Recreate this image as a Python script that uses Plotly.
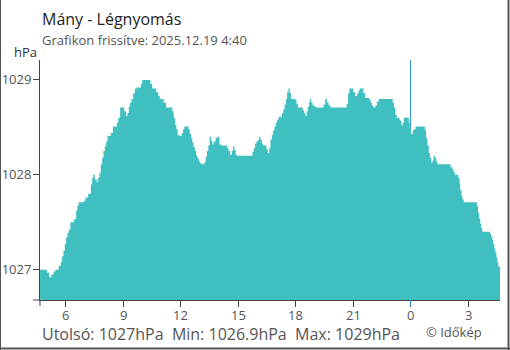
import plotly.graph_objects as go

# Hours since midnight of the first day (4.67 = 04:40, 28.67 = 04:40 next day)
hours = [4.67, 5.03, 5.14, 5.26, 5.38, 5.47, 5.64, 5.75, 5.82, 5.89, 5.96, 6.03, 6.10, 6.17, 6.25,
         6.44, 6.55, 6.62, 6.69, 6.97, 7.04, 7.18, 7.32, 7.39, 7.46, 7.53, 7.63, 7.70, 7.77, 7.84,
         7.91, 7.98, 8.05, 8.12, 8.19, 8.36, 8.47, 8.68, 8.75, 8.85, 9.06, 9.16, 9.23, 9.30, 9.36,
         9.44, 9.53, 9.62, 9.70, 9.93, 10.00, 10.42, 10.52, 10.73, 10.84, 10.92, 11.12, 11.24, 11.57,
         11.64, 11.71, 11.78, 11.85, 11.92, 12.06, 12.13, 12.20, 12.41, 12.48, 12.55, 12.61, 12.68,
         12.75, 12.82, 12.89, 12.96, 13.03, 13.10, 13.24, 13.31, 13.38, 13.45, 13.52, 13.59, 13.66,
         13.73, 13.83, 13.94, 14.03, 14.11, 14.43, 14.50, 14.58, 14.67, 14.74, 14.81, 14.88, 14.95,
         15.75, 15.82, 15.89, 15.96, 16.03, 16.10, 16.17, 16.24, 16.31, 16.48, 16.55, 16.62, 16.69,
         16.76, 16.83, 16.90, 16.97, 17.04, 17.11, 17.29, 17.36, 17.43, 17.50, 17.56, 17.63, 17.70,
         17.77, 17.98, 18.05, 18.12, 18.37, 18.44, 18.51, 18.58, 18.65, 18.71, 18.75, 18.82, 18.89,
         18.99, 19.06, 19.46, 19.55, 19.64, 19.73, 19.83, 20.67, 20.74, 20.81, 21.02, 21.12, 21.22,
         21.29, 21.36, 21.54, 21.64, 21.85, 21.92, 21.99, 22.06, 22.17, 22.24, 22.34, 23.07, 23.14,
         23.21, 23.28, 23.42, 23.46, 23.53, 23.59, 23.66, 23.91, 23.96, 24.03, 24.12, 24.19, 24.26,
         24.75, 24.81, 24.88, 24.95, 25.01, 25.08, 25.15, 25.20, 25.27, 25.34, 25.41, 26.09, 26.17,
         26.24, 26.31, 26.49, 26.56, 26.59, 26.66, 26.71, 26.78, 27.46, 27.52, 27.57, 27.64, 27.69,
         27.74, 28.14, 28.21, 28.27, 28.32, 28.37, 28.42, 28.48, 28.53, 28.58, 28.67]

pressure = [1027.00, 1026.97, 1026.92, 1026.95, 1026.98, 1027.00, 1027.04, 1027.08, 1027.14, 1027.20,
            1027.27, 1027.34, 1027.39, 1027.42, 1027.50, 1027.53, 1027.62, 1027.68, 1027.71, 1027.73,
            1027.76, 1027.80, 1027.90, 1027.97, 1028.00, 1027.95, 1027.92, 1027.97, 1028.02, 1028.11,
            1028.18, 1028.25, 1028.30, 1028.35, 1028.41, 1028.44, 1028.51, 1028.55, 1028.60, 1028.71,
            1028.67, 1028.62, 1028.65, 1028.72, 1028.76, 1028.80, 1028.86, 1028.91, 1028.92, 1028.96,
            1029.00, 1028.96, 1028.91, 1028.87, 1028.83, 1028.80, 1028.76, 1028.71, 1028.67, 1028.60,
            1028.53, 1028.48, 1028.42, 1028.41, 1028.44, 1028.48, 1028.51, 1028.48, 1028.43, 1028.39,
            1028.34, 1028.29, 1028.25, 1028.20, 1028.17, 1028.14, 1028.12, 1028.11, 1028.13, 1028.19,
            1028.25, 1028.31, 1028.40, 1028.36, 1028.32, 1028.35, 1028.39, 1028.40, 1028.32, 1028.31,
            1028.28, 1028.25, 1028.21, 1028.25, 1028.30, 1028.26, 1028.21, 1028.20, 1028.24, 1028.28,
            1028.33, 1028.35, 1028.37, 1028.40, 1028.37, 1028.33, 1028.31, 1028.27, 1028.23, 1028.28,
            1028.37, 1028.42, 1028.47, 1028.51, 1028.55, 1028.58, 1028.61, 1028.65, 1028.69, 1028.74,
            1028.80, 1028.87, 1028.91, 1028.86, 1028.80, 1028.79, 1028.75, 1028.71, 1028.68, 1028.65,
            1028.62, 1028.67, 1028.72, 1028.77, 1028.80, 1028.76, 1028.73, 1028.72, 1028.71, 1028.74,
            1028.80, 1028.76, 1028.73, 1028.71, 1028.75, 1028.86, 1028.91, 1028.87, 1028.83, 1028.86,
            1028.89, 1028.91, 1028.86, 1028.81, 1028.79, 1028.76, 1028.73, 1028.71, 1028.73, 1028.77,
            1028.80, 1028.76, 1028.71, 1028.63, 1028.60, 1028.58, 1028.57, 1028.52, 1028.55, 1028.60,
            1028.55, 1028.49, 1028.43, 1028.47, 1028.48, 1028.51, 1028.47, 1028.39, 1028.31, 1028.23,
            1028.18, 1028.13, 1028.15, 1028.20, 1028.18, 1028.14, 1028.11, 1028.08, 1028.06, 1028.03,
            1028.00, 1027.97, 1027.90, 1027.84, 1027.78, 1027.74, 1027.71, 1027.67, 1027.60, 1027.54,
            1027.48, 1027.44, 1027.40, 1027.38, 1027.35, 1027.31, 1027.27, 1027.22, 1027.18, 1027.13,
            1027.08, 1027.03, 1027.03]

tick_vals = [6, 9, 12, 15, 18, 21, 24, 27]
tick_text = ["6", "9", "12", "15", "18", "21", "0", "3"]
y_ticks = [1027, 1028, 1029]

title = "Mány - Légnyomás"
subtitle = "Grafikon frissítve: 2025.12.19 4:40"
stats = "Utolsó: 1027hPa  Min: 1026.9hPa  Max: 1029hPa"
credit = "© Időkép"
midnight = 24

W, H = 510, 350
L, R, T, B = 40, 10, 60, 50
PW, PH = W - L - R, H - T - B

def px(x):
    return (x - L) / PW

def py(y):
    return (H - B - y) / PH

FONT = "Open Sans"
fig = go.Figure()
fig.add_trace(go.Scatter(
    x=hours, y=pressure, mode="lines",
    line=dict(shape="hv", width=0, color="#40bfc1"),
    fill="tozeroy", fillcolor="#40bfc1", hoverinfo="skip", showlegend=False))

shapes = [
    # midnight marker (behind area)
    dict(type="line", xref="x", yref="paper", x0=midnight, x1=midnight, y0=0, y1=1,
         line=dict(color="#2a90d8", width=1), layer="below"),
    dict(type="line", xref="x", yref="paper", x0=midnight, x1=midnight, y0=py(306), y1=0,
         line=dict(color="#2a90d8", width=1), layer="above"),
    # small axis extensions
    dict(type="line", xref="paper", yref="paper", x0=px(33), x1=0, y0=0, y1=0,
         line=dict(color="#444", width=1)),
    dict(type="line", xref="paper", yref="paper", x0=0, x1=0, y0=py(306), y1=0,
         line=dict(color="#444", width=1)),
    # image frame
    dict(type="line", xref="paper", yref="paper", x0=px(0.5), x1=px(0.5), y0=py(0), y1=py(350),
         line=dict(color="#555", width=1)),
    dict(type="line", xref="paper", yref="paper", x0=px(508.5), x1=px(508.5), y0=py(0), y1=py(350),
         line=dict(color="#555", width=2)),
    dict(type="line", xref="paper", yref="paper", x0=px(0), x1=px(510), y0=py(348.5), y1=py(348.5),
         line=dict(color="#555", width=2)),
]

annotations = [
    dict(text=title, x=px(40), y=py(19), xref="paper", yref="paper", xanchor="left", yanchor="middle",
         showarrow=False, font=dict(family=FONT, size=16, color="#222")),
    dict(text=subtitle, x=px(40), y=py(40.5), xref="paper", yref="paper", xanchor="left", yanchor="middle",
         showarrow=False, font=dict(family=FONT, size=13, color="#555")),
    dict(text="hPa", x=px(12), y=py(51.5), xref="paper", yref="paper", xanchor="left", yanchor="middle",
         showarrow=False, font=dict(family=FONT, size=13, color="#333")),
    dict(text=stats, x=px(40), y=py(334), xref="paper", yref="paper", xanchor="left", yanchor="middle",
         showarrow=False, font=dict(family=FONT, size=16, color="#555")),
    dict(text=credit, x=px(424), y=py(332), xref="paper", yref="paper", xanchor="left", yanchor="middle",
         showarrow=False, font=dict(family=FONT, size=13, color="#555")),
]
# x-axis tick labels placed just under the tick marks
for tv, tt in zip(tick_vals, tick_text):
    annotations.append(dict(text=tt, x=tv, y=py(315), xref="x", yref="paper",
                            xanchor="center", yanchor="middle", showarrow=False,
                            font=dict(family=FONT, size=13, color="#555")))

fig.update_layout(
    width=W, height=H,
    margin=dict(l=L, r=R, t=T, b=B, pad=0),
    paper_bgcolor="white", plot_bgcolor="white",
    font=dict(family=FONT, color="#555"),
    shapes=shapes, annotations=annotations,
    xaxis=dict(range=[4.667, 28.667], tickmode="array", tickvals=tick_vals, ticktext=tick_text,
               showticklabels=False,
               showgrid=False, zeroline=False, showline=True, linecolor="#444", linewidth=1,
               ticks="outside", ticklen=6, tickcolor="#444", tickwidth=1, automargin=False,
               fixedrange=True),
    yaxis=dict(range=[1026.68, 1029.21], tickmode="array", tickvals=y_ticks,
               ticktext=[str(v) for v in y_ticks],
               showgrid=False, zeroline=False, showline=True, linecolor="#444", linewidth=1,
               ticks="outside", ticklen=6, tickcolor="#444", tickwidth=1, automargin=False,
               ticklabelstandoff=-1,
               tickfont=dict(family=FONT, size=13, color="#555"), fixedrange=True),
)

fig.write_html("out.html")
